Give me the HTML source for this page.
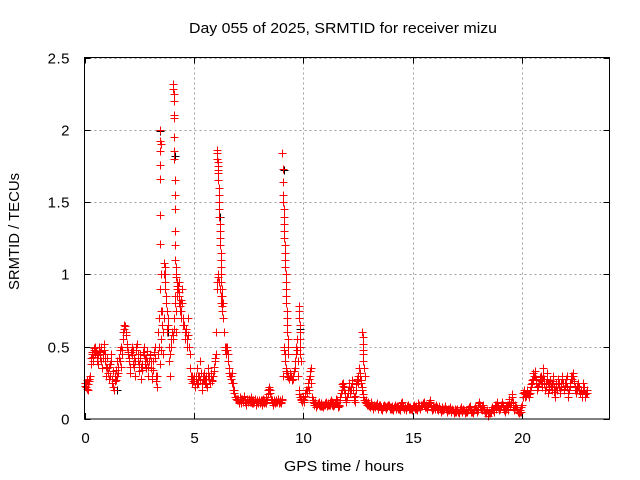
<!DOCTYPE html>
<html><head><meta charset="utf-8"><style>
body{margin:0;background:#fff;}
svg{display:block;font-family:"Liberation Sans",sans-serif;}
</style></head><body>
<svg id="chart" width="640" height="480">
<text x="189" y="33" font-size="15" textLength="308" lengthAdjust="spacingAndGlyphs">Day 055 of 2025, SRMTID for receiver mizu</text>
<text x="284" y="471" font-size="15" textLength="120" lengthAdjust="spacingAndGlyphs">GPS time / hours</text>
<text transform="translate(19,290) rotate(-90)" font-size="15" textLength="117" lengthAdjust="spacingAndGlyphs">SRMTID / TECUs</text>
<g id="grid"></g><g id="ticks"></g><g id="marks" fill="none" shape-rendering="crispEdges"></g>
<rect x="84.5" y="57.5" width="525" height="361.5" fill="none" stroke="#000" stroke-width="1" shape-rendering="crispEdges"/>
</svg>
<script>
const xTicks=[0,5,10,15,20];
const yTicks=[0,0.5,1,1.5,2,2.5];
const yTickLabels=["0","0.5","1","1.5","2","2.5"];
const baseStep=0.05;
const baseValues=[
.25,.22,.27,.2,.26,.3,.42,.45,.4,.48,.5,.44,.38,.47,.42,.5,.35,.45,.52,.4,
.3,.42,.28,.38,.45,.25,.33,.2,.3,.27,.4,.32,.48,.36,.45,.55,.62,.64,.58,.5,
.45,.4,.32,.5,.38,.42,.3,.48,.52,.4,.33,.45,.28,.38,.5,.42,.35,.47,.3,.4,
.45,.35,.28,.4,.5,.3,.22,.45,.7,.38,.55,.75,.45,1.0,1.05,.62,.7,.5,.3,.55,
.6,.55,.7,.85,.6,.9,.95,.8,.75,.9,.7,.65,.55,.6,.5,.7,.45,.3,.25,.28,
.3,.22,.28,.35,.25,.3,.4,.2,.27,.32,.25,.3,.22,.35,.28,.25,.3,.27,.33,.4,
.45,.9,1.0,.95,.9,.8,.75,.7,.5,.45,.5,.45,.35,.3,.28,.32,.25,.2,.15,.14,
.13,.12,.15,.11,.14,.13,.16,.12,.1,.14,.13,.12,.15,.11,.13,.12,.14,.1,.13,.12,
.12,.13,.1,.14,.11,.12,.15,.13,.2,.22,.18,.13,.1,.12,.11,.13,.12,.14,.11,.12,
.12,.14,.5,.45,.35,.32,.3,.28,.32,.3,.27,.3,.35,.45,.55,.4,.2,.15,.13,.12,
.15,.12,.18,.2,.22,.2,.3,.35,.15,.12,.1,.12,.08,.1,.12,.09,.11,.1,.08,.1,
.1,.12,.09,.11,.1,.13,.12,.09,.1,.11,.14,.12,.08,.1,.15,.2,.25,.22,.18,.12,
.15,.2,.25,.18,.22,.27,.15,.12,.2,.28,.25,.35,.3,.25,.2,.15,.12,.13,.1,.12,
.1,.08,.12,.09,.07,.1,.08,.11,.07,.09,.1,.08,.06,.09,.1,.08,.07,.09,.1,.08,
.07,.09,.06,.08,.1,.07,.09,.08,.06,.1,.12,.09,.07,.08,.06,.09,.1,.07,.08,.06,
.08,.1,.07,.09,.06,.11,.08,.07,.1,.09,.12,.08,.1,.07,.09,.11,.13,.08,.06,.09,
.07,.1,.08,.06,.09,.07,.05,.08,.06,.07,.09,.05,.07,.06,.08,.05,.07,.06,.04,.07,
.05,.07,.04,.06,.08,.05,.07,.06,.04,.06,.05,.07,.09,.06,.05,.04,.06,.08,.07,.05,
.1,.12,.08,.06,.1,.07,.05,.04,.06,.02,.05,.04,.06,.08,.05,.1,.07,.12,.09,.06,
.07,.1,.12,.08,.05,.07,.1,.06,.14,.1,.12,.17,.08,.06,.1,.07,.05,.04,.06,.05,
.1,.18,.2,.15,.17,.2,.15,.18,.22,.25,.28,.3,.33,.25,.2,.23,.27,.3,.22,.35,
.28,.2,.25,.32,.18,.24,.27,.2,.3,.22,.15,.25,.2,.28,.22,.18,.25,.3,.2,.23,
.25,.3,.15,.2,.25,.3,.28,.32,.22,.18,.2,.25,.22,.18,.2,.15,.25,.2,.15,.18];
const baseValues2=[
.23,.25,.21,.24,.28,.38,.46,.43,.49,.45,.47,.4,.44,.5,.46,.4,.42,.48,.45,.36,
.35,.32,.36,.3,.4,.28,.22,.26,.34,.3,.36,.42,.4,.5,.48,.6,.65,.6,.52,.46,
.42,.36,.46,.44,.48,.36,.4,.5,.45,.38,.42,.36,.34,.46,.44,.38,.42,.4,.36,.44,
.4,.3,.34,.46,.42,.26,.3,.6,.5,.48,.65,.6,.7,.9,.85,.6,.65,.4,.45,.5,
.58,.62,.8,.75,.85,.92,.88,.78,.82,.8,.65,.6,.62,.55,.58,.5,.35,.28,.3,.26,
.26,.3,.24,.3,.3,.27,.32,.25,.3,.28,.28,.24,.3,.3,.25,.32,.26,.3,.36,.42,
.6,.95,.98,.9,.85,.78,.8,.6,.48,.5,.48,.4,.32,.3,.25,.2,.18,.15,.14,.13,
.14,.11,.13,.14,.12,.15,.13,.11,.13,.12,.14,.13,.12,.13,.11,.14,.12,.12,.11,.13,
.11,.12,.13,.12,.13,.11,.13,.17,.21,.2,.14,.12,.11,.13,.12,.12,.13,.12,.13,.11,
.13,.3,.48,.4,.33,.3,.29,.3,.3,.28,.28,.33,.4,.5,.48,.3,.17,.14,.12,.14,
.13,.16,.2,.18,.25,.28,.33,.25,.13,.11,.11,.1,.1,.11,.1,.1,.09,.09,.1,.11,
.11,.1,.1,.1,.12,.11,.1,.11,.1,.12,.13,.1,.09,.13,.18,.24,.23,.2,.15,.13,
.18,.22,.2,.2,.25,.2,.13,.16,.24,.26,.3,.32,.27,.22,.17,.13,.12,.11,.11,.1,
.09,.1,.1,.08,.09,.09,.1,.09,.08,.1,.09,.07,.08,.1,.09,.08,.08,.1,.09,.07,
.08,.07,.07,.09,.08,.08,.07,.07,.08,.11,.1,.08,.07,.07,.08,.1,.08,.07,.07,.07,
.09,.08,.08,.07,.08,.1,.07,.09,.1,.11,.1,.09,.08,.08,.1,.12,.1,.07,.07,.08,
.08,.09,.07,.07,.08,.06,.06,.07,.07,.08,.07,.06,.06,.07,.07,.06,.06,.05,.05,.06,
.06,.05,.05,.07,.06,.06,.06,.05,.05,.05,.06,.08,.07,.05,.05,.05,.07,.07,.06,.06,
.11,.1,.07,.08,.08,.06,.04,.05,.04,.04,.04,.05,.07,.06,.07,.09,.1,.1,.08,.07,
.09,.11,.1,.06,.06,.09,.08,.1,.12,.11,.15,.12,.07,.08,.08,.06,.05,.05,.05,.08,
.15,.19,.17,.16,.19,.17,.17,.2,.24,.27,.32,.3,.28,.22,.22,.25,.29,.26,.28,.3,
.24,.22,.28,.25,.21,.26,.23,.25,.26,.19,.2,.22,.24,.25,.2,.22,.28,.25,.21,.25,
.28,.22,.18,.23,.28,.3,.3,.26,.2,.2,.23,.22,.2,.2,.17,.2,.22,.17,.18,.2];
const spikeTimes=[3.45,3.45,3.45,3.45,3.46,3.46,3.46,3.47,3.48,3.5,3.5,
3.65,3.66,3.67,3.68,3.7,3.72,3.74,3.75,
4.05,4.06,4.07,4.08,4.08,4.09,4.1,4.1,4.11,4.12,4.12,4.13,4.14,4.15,4.15,4.16,4.17,
4.2,4.22,4.25,4.28,4.3,4.33,4.36,4.4,
6.05,6.06,6.07,6.08,6.09,6.1,6.11,6.12,6.13,6.14,6.15,6.16,6.17,6.18,6.19,6.2,6.21,6.22,6.23,6.24,6.25,6.26,6.27,6.28,6.3,
9.05,9.06,9.07,9.08,9.09,9.1,9.11,9.12,9.13,9.14,9.15,9.16,9.17,9.18,9.19,9.2,9.21,9.22,9.23,9.24,9.25,9.26,9.27,9.28,9.29,9.3,
9.8,9.81,9.82,9.83,9.84,9.85,9.86,9.87,9.88,
12.7,12.71,12.72,12.73,12.74,12.75,12.77,12.8];
const spikeValues=[2.0,1.92,1.85,1.76,1.66,1.41,1.21,0.9,0.75,1.9,1.0,
1.08,1.05,1.0,0.95,0.9,0.85,0.8,0.75,
2.32,2.28,2.25,2.2,2.1,2.08,1.95,1.85,1.8,1.65,1.55,1.45,1.3,1.2,1.1,1.05,1.0,
.98,.95,.92,.9,.85,.8,.75,.7,
1.86,1.84,1.8,1.78,1.75,1.72,1.7,1.65,1.6,1.55,1.5,1.45,1.4,1.35,1.3,1.25,1.2,1.15,1.1,1.05,1.0,.95,.9,.85,.8,
1.84,1.73,1.64,1.55,1.5,1.45,1.4,1.35,1.3,1.25,1.2,1.15,1.1,1.05,1.0,.95,.9,.85,.8,.75,.7,.65,.6,.55,.5,.45,
.78,.75,.7,.65,.6,.55,.5,.45,.4,
.6,.57,.52,.48,.45,.4,.35,.3];
const blackTimes=[3.45,4.1,4.12,6.2,9.12,9.85,1.5,3.8];
const blackValues=[1.99,2.1,1.82,1.4,1.72,0.62,0.2,0.6];

const X0=84.5,X1=609.5,Y0=419,Y1=57.5,XMAX=24,YMAX=2.5;
function xs(t){return X0+t/XMAX*(X1-X0);}
function ys(v){return Y0-v/YMAX*(Y0-Y1);}
const NS="http://www.w3.org/2000/svg";
const grid=document.getElementById('grid'),ticks=document.getElementById('ticks'),marks=document.getElementById('marks');
function mk(tag,attrs,parent){const e=document.createElementNS(NS,tag);for(const k in attrs)e.setAttribute(k,attrs[k]);parent.appendChild(e);return e;}
yTicks.forEach((v,i)=>{
  const y=Math.round(ys(v))+0.5;
  if(v>0){const g=mk('line',{x1:X0,x2:X1,y1:y,y2:y,stroke:'#a0a0a0','stroke-dasharray':'2,3','shape-rendering':'crispEdges'},grid);
  
  }
  const t1=mk('path',{d:`M${X0} ${y}h6M${X1} ${y}h-6`,stroke:'#000','shape-rendering':'crispEdges'},ticks);
  
  
  const l=mk('text',{x:70,y:y+5,'font-size':15,'text-anchor':'end','letter-spacing':'0.5'},ticks);l.textContent=yTickLabels[i];
  
  
});
xTicks.forEach(t=>{
  const x=Math.round(xs(t))+0.5;
  if(t>0){const g=mk('line',{x1:x,x2:x,y1:Y1,y2:Y0,stroke:'#a0a0a0','stroke-dasharray':'2,3','shape-rendering':'crispEdges'},grid);
  
  }
  const t1=mk('path',{d:`M${x} ${Y0}v-6M${x} ${Y1}v6`,stroke:'#000','shape-rendering':'crispEdges'},ticks);
  
  
  const l=mk('text',{x:x,y:443,'font-size':15,'text-anchor':'middle'},ticks);l.textContent=String(t);
  
  
});
function plus(t,v,color,name){
  const x=Math.round(xs(t))+0.5,y=Math.round(ys(v))+0.5;
  const p=mk('path',{d:`M${x-4} ${y}h8M${x} ${y-4}v8`,stroke:color,'stroke-width':1,fill:'none'},marks);
  
  
}
blackValues.forEach((v,i)=>plus(blackTimes[i],v,'#000','black-point'));
baseValues.forEach((v,i)=>plus(i*baseStep,v,'#ff0000','srmtid-point'));
baseValues2.forEach((v,i)=>plus(i*baseStep+0.025,v,'#ff0000','srmtid-point'));
spikeValues.forEach((v,i)=>plus(spikeTimes[i],v,'#ff0000','srmtid-spike-point'));
</script>
</body></html>
